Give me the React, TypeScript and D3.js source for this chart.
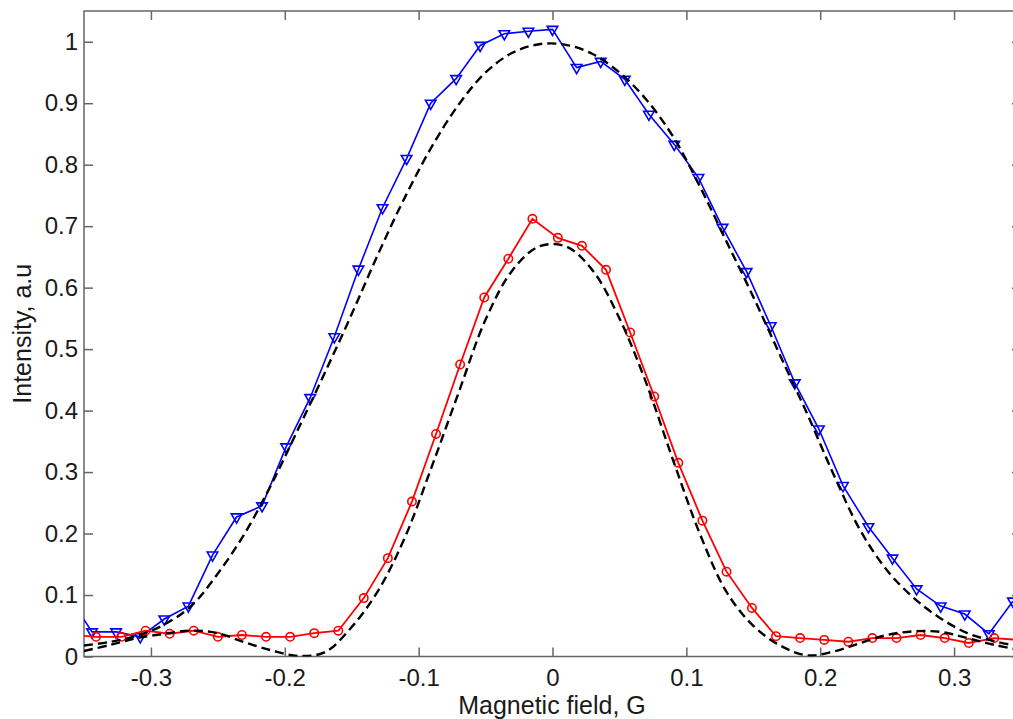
import { useEffect, useRef } from "react"
import * as d3 from "d3"

// field positions (G) and intensities
const triField = [
    -0.362, -0.344, -0.326, -0.308, -0.290, -0.272, -0.254, -0.236, -0.217, -0.199, -0.181,
    -0.163, -0.145, -0.127, -0.109, -0.091, -0.072, -0.054, -0.036, -0.018, 0.000,
    0.018, 0.036, 0.054, 0.072, 0.091, 0.109, 0.127, 0.145, 0.163, 0.181,
    0.199, 0.217, 0.236, 0.254, 0.272, 0.290, 0.308, 0.326, 0.344
]
const triIntensity = [
    0.100, 0.040, 0.040, 0.032, 0.061, 0.082, 0.165, 0.227, 0.245, 0.341, 0.421,
    0.520, 0.630, 0.730, 0.810, 0.900, 0.940, 0.994, 1.013, 1.017, 1.020,
    0.958, 0.968, 0.939, 0.882, 0.833, 0.779, 0.698, 0.626, 0.538, 0.445,
    0.370, 0.278, 0.211, 0.160, 0.110, 0.082, 0.069, 0.037, 0.090
]

const circField = [
    -0.359, -0.341, -0.322, -0.304, -0.286, -0.268, -0.250, -0.232, -0.214, -0.196, -0.178,
    -0.160, -0.141, -0.123, -0.105, -0.087, -0.069, -0.051, -0.033, -0.015, 0.004,
    0.022, 0.040, 0.058, 0.076, 0.094, 0.112, 0.130, 0.149, 0.167, 0.185,
    0.203, 0.221, 0.239, 0.257, 0.275, 0.293, 0.311, 0.330, 0.348
]
const circIntensity = [
    0.035, 0.032, 0.032, 0.042, 0.037, 0.042, 0.032, 0.035, 0.032, 0.032, 0.038,
    0.042, 0.095, 0.160, 0.252, 0.362, 0.475, 0.584, 0.647, 0.712, 0.681,
    0.668, 0.629, 0.527, 0.423, 0.315, 0.221, 0.138, 0.079, 0.033, 0.030,
    0.027, 0.024, 0.030, 0.030, 0.035, 0.030, 0.022, 0.030, 0.027
]

// the two dashed fits, sampled every 0.02 G
const fitField = [
    -0.35, -0.33, -0.31, -0.29, -0.27, -0.25, -0.23, -0.21, -0.19, -0.17, -0.15, -0.13,
    -0.11, -0.09, -0.07, -0.05, -0.03, -0.01, 0.01, 0.03, 0.05, 0.07, 0.09, 0.11,
    0.13, 0.15, 0.17, 0.19, 0.21, 0.23, 0.25, 0.27, 0.29, 0.31, 0.33, 0.35
]
const fitBroad = [
    0.018, 0.024, 0.034, 0.052, 0.082, 0.135, 0.200, 0.280, 0.370, 0.462, 0.557, 0.656,
    0.748, 0.830, 0.898, 0.950, 0.982, 0.996, 0.995, 0.980, 0.950, 0.906, 0.846, 0.765,
    0.675, 0.585, 0.490, 0.396, 0.296, 0.205, 0.140, 0.095, 0.062, 0.038, 0.025, 0.016
]
const fitNarrow = [
    0.009, 0.019, 0.030, 0.037, 0.042, 0.038, 0.023, 0.010, 0.001, 0.007, 0.048, 0.108,
    0.195, 0.310, 0.430, 0.548, 0.628, 0.667, 0.667, 0.628, 0.550, 0.445, 0.320, 0.200,
    0.105, 0.050, 0.018, 0.002, 0.008, 0.022, 0.035, 0.041, 0.040, 0.030, 0.019, 0.010
]

const xTicks = [-0.3, -0.2, -0.1, 0, 0.1, 0.2, 0.3]
const yTicks = [0, 0.1, 0.2, 0.3, 0.4, 0.5, 0.6, 0.7, 0.8, 0.9, 1]

const W = 1013
const H = 719
const FONT = "'Liberation Sans', Arial, sans-serif"

export default function App() {
    const svgRef = useRef(null)

    useEffect(() => {
        const svg = d3.select(svgRef.current)
        svg.selectAll("*").remove()

        const left = 84, right = 1021, top = 11, bottom = 656.5
        const x = d3.scaleLinear().domain([-0.35, 0.35]).range([left, right])
        const y = d3.scaleLinear().domain([0, 1.05]).range([bottom, top])
        const fmt = (d) => String(+(+d).toFixed(1))

        svg.append("defs").append("clipPath").attr("id", "plotclip")
            .append("rect")
            .attr("x", left).attr("y", top)
            .attr("width", right - left).attr("height", bottom - top)

        // axes with inward ticks (matlab box style)
        const axes = [
            { gen: d3.axisBottom(x).tickValues(xTicks).tickFormat(fmt).tickPadding(12), t: `translate(0,${bottom})` },
            { gen: d3.axisTop(x).tickValues(xTicks).tickFormat(() => ""), t: `translate(0,${top})` },
            { gen: d3.axisLeft(y).tickValues(yTicks).tickFormat(fmt).tickPadding(6), t: `translate(${left},0)` },
            { gen: d3.axisRight(y).tickValues(yTicks).tickFormat(() => ""), t: `translate(${right},0)` },
        ]
        axes.forEach(a => {
            const g = svg.append("g").attr("transform", a.t)
                .call(a.gen.tickSize(-9).tickSizeOuter(0))
            g.select(".domain").remove()
            g.selectAll(".tick line").attr("stroke", "#666").attr("stroke-width", 1.5)
            g.selectAll(".tick text")
                .attr("fill", "#1a1a1a")
                .attr("font-family", FONT)
                .attr("font-size", 24)
        })
        svg.append("rect")
            .attr("x", left).attr("y", top)
            .attr("width", right - left).attr("height", bottom - top)
            .attr("fill", "none").attr("stroke", "#666").attr("stroke-width", 1.5)

        const plot = svg.append("g").attr("clip-path", "url(#plotclip)")

        const lineOf = (xs, ys, curve) => d3.line()
            .x((d, i) => x(xs[i]))
            .y((d) => y(d))
            .curve(curve)(ys)

        // blue data with down triangles
        plot.append("path")
            .attr("d", lineOf(triField, triIntensity, d3.curveLinear))
            .attr("fill", "none").attr("stroke", "#0000ff").attr("stroke-width", 1.6)
        const tri = d3.symbol(d3.symbolTriangle, 48)()
        plot.selectAll(".tri")
            .data(triIntensity)
            .join("path")
            .attr("class", "tri")
            .attr("d", tri)
            .attr("transform", (d, i) => `translate(${x(triField[i])},${y(d)}) rotate(180)`)
            .attr("fill", "none").attr("stroke", "#0000ff").attr("stroke-width", 1.6)

        // red data with circles
        plot.append("path")
            .attr("d", lineOf(circField, circIntensity, d3.curveLinear))
            .attr("fill", "none").attr("stroke", "#ff0000").attr("stroke-width", 1.8)
        plot.selectAll(".circ")
            .data(circIntensity)
            .join("circle")
            .attr("class", "circ")
            .attr("cx", (d, i) => x(circField[i]))
            .attr("cy", (d) => y(d))
            .attr("r", 4.2)
            .attr("fill", "none").attr("stroke", "#ff0000").attr("stroke-width", 1.6)

        // dashed fits
        ;[fitBroad, fitNarrow].forEach(f => {
            plot.append("path")
                .attr("d", lineOf(fitField, f, d3.curveCatmullRom))
                .attr("fill", "none").attr("stroke", "#000")
                .attr("stroke-width", 2.4).attr("stroke-dasharray", "9,5")
        })

        // axis titles
        svg.append("text")
            .attr("x", 552).attr("y", 714)
            .attr("text-anchor", "middle")
            .attr("font-family", FONT).attr("font-size", 25).attr("fill", "#1a1a1a")
            .text("Magnetic field, G")
        svg.append("text")
            .attr("transform", `translate(31,${(top + bottom) / 2}) rotate(-90)`)
            .attr("text-anchor", "middle")
            .attr("font-family", FONT).attr("font-size", 25).attr("fill", "#1a1a1a")
            .text("Intensity, a.u")
    }, [])

    return (
        <div>
            <style>{`body{margin:0;background:#fff}`}</style>
            <svg ref={svgRef} width={W} height={H} style={{ display: "block" }} />
        </div>
    )
}
